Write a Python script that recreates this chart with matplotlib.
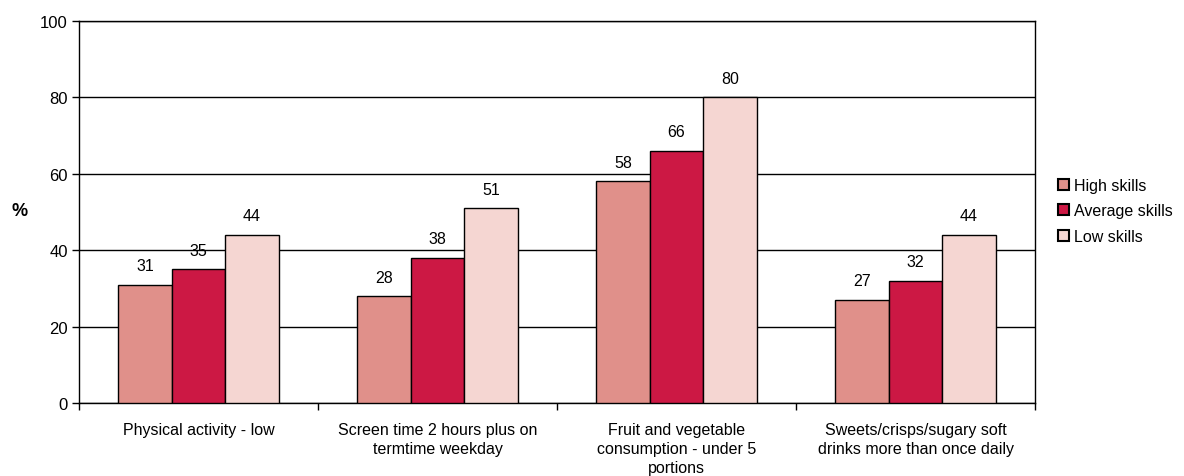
import numpy as np
import matplotlib
matplotlib.use("Agg")
import matplotlib.pyplot as plt

plt.rcParams['font.family'] = ['Liberation Sans', 'DejaVu Sans']

categories = [
    "Physical activity - low",
    "Screen time 2 hours plus on\ntermtime weekday",
    "Fruit and vegetable\nconsumption - under 5\nportions",
    "Sweets/crisps/sugary soft\ndrinks more than once daily",
]
series_names = ["High skills", "Average skills", "Low skills"]
high = [31, 28, 58, 27]
average = [35, 38, 66, 32]
low = [44, 51, 80, 44]
colors = ["#e0908a", "#cc1844", "#f5d6d2"]

fig = plt.figure(figsize=(11.84, 4.77), dpi=100)
ax = fig.add_axes([79 / 1184, 1 - 404 / 477, (1035 - 79) / 1184, (404 - 22) / 477])

x = np.arange(len(categories))
w = 0.224
for i, (vals, name, c) in enumerate(zip([high, average, low], series_names, colors)):
    pos = x + (i - 1) * w
    ax.bar(pos, vals, width=w, color=c, edgecolor="black", linewidth=1.0,
           label=name, zorder=3)
    for p, v in zip(pos, vals):
        ax.text(p, v + 3, str(v), ha="center", va="bottom", fontsize=11.5)

ax.set_xlim(-0.5, len(categories) - 0.5)
ax.set_ylim(0, 100)
ax.set_yticks(range(0, 101, 20))
ax.yaxis.grid(True, color="black", linewidth=1.0, zorder=0)
ax.set_axisbelow(True)

ax.set_xticks(np.arange(-0.5, len(categories), 1.0))
ax.set_xticklabels([])
ax.set_xticks(x, minor=True)
ax.set_xticklabels(categories, minor=True, fontsize=11.5, linespacing=1.3)
ax.tick_params(axis="x", which="minor", length=0, pad=14)
ax.tick_params(axis="x", which="major", length=5, width=1, direction="out")
ax.tick_params(axis="y", length=5, width=1, labelsize=12, pad=3)

for s in ax.spines.values():
    s.set_linewidth(1.0)
    s.set_color("black")

fig.text(20 / 1184, 1 - 212 / 477, "%", fontsize=13, fontweight="bold",
         ha="center", va="center")

leg = ax.legend(loc="center left", bbox_to_anchor=(1.009, 0.503), frameon=False,
                fontsize=11.5, handlelength=0.7, handleheight=0.7,
                handletextpad=0.3, labelspacing=0.65)
for h in leg.legend_handles:
    h.set_linewidth(1.5)

fig.savefig("out.png", dpi=100)
